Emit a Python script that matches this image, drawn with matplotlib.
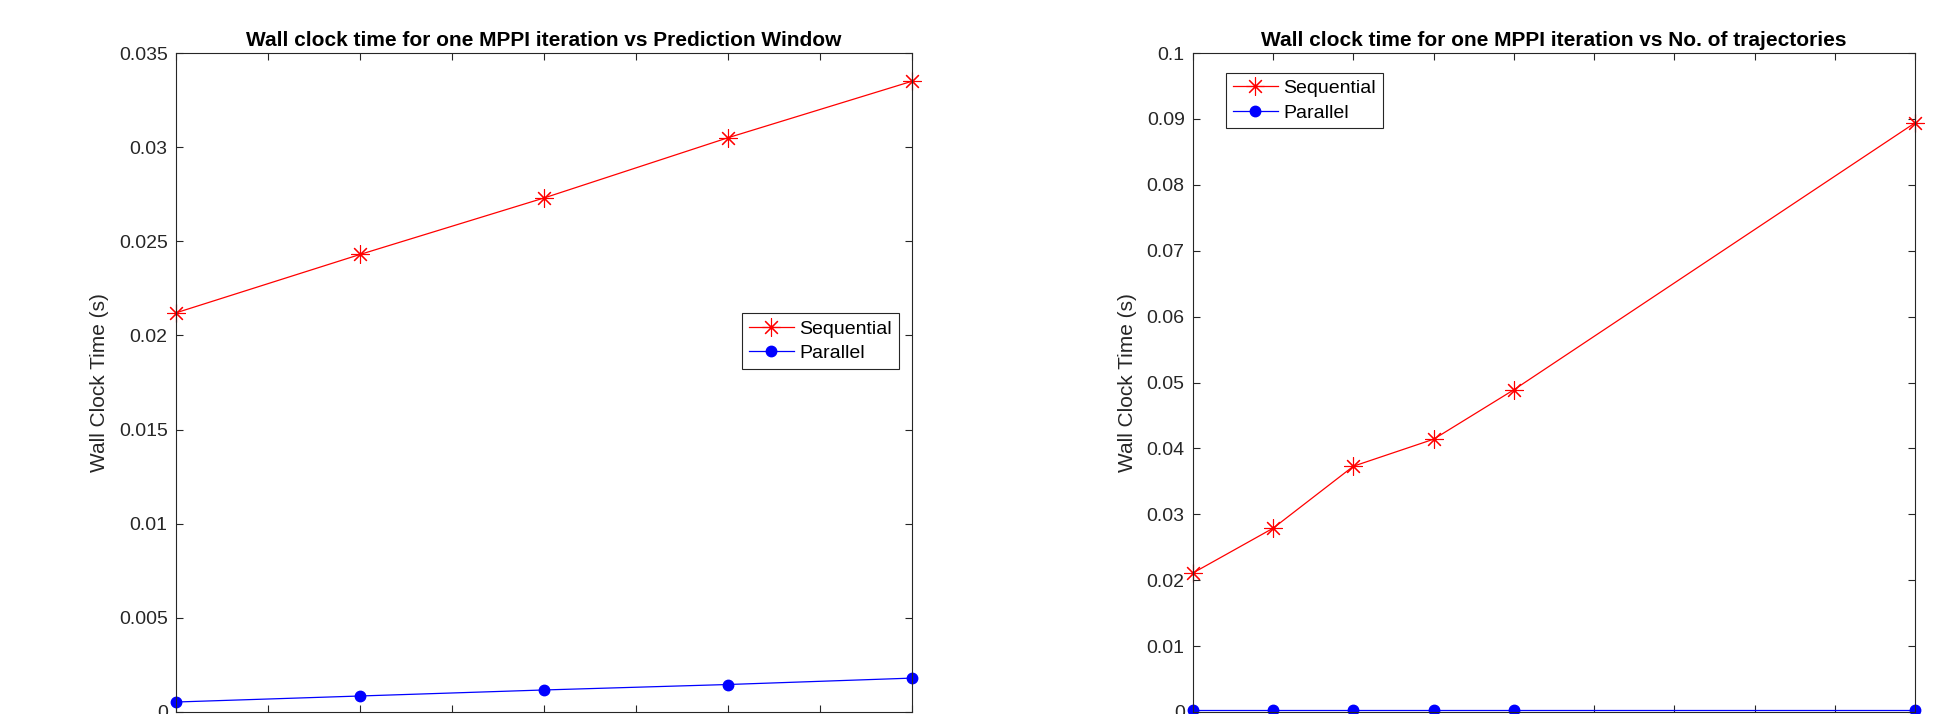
import matplotlib.pyplot as plt
import numpy as np

plt.rcParams['font.family'] = ['Liberation Sans', 'DejaVu Sans']

# prediction window sweep
horizon = [10, 20, 30, 40, 50]
seq_horizon = [0.0212, 0.0243, 0.0273, 0.0305, 0.0335]
par_horizon = [0.00053, 0.00085, 0.00117, 0.00146, 0.0018]

# number of trajectories sweep
n_traj = [1000, 2000, 3000, 4000, 5000, 10000]
seq_traj = [0.0211, 0.0279, 0.0373, 0.0414, 0.0489, 0.0894]
par_traj = [0.0003, 0.0003, 0.0003, 0.0003, 0.0003, 0.0003]

dark = '#262626'

fig = plt.figure(figsize=(19.41, 7.14), dpi=100)
ax1 = fig.add_axes([176 / 1941, 2 / 714, 736 / 1941, 659 / 714])
ax2 = fig.add_axes([1193 / 1941, 2 / 714, 722 / 1941, 659 / 714])

asterisk = (8, 2, 0)


def style(ax, title):
    ax.set_title(title, fontsize=15, fontweight='bold', color='black', pad=5)
    ax.set_ylabel('Wall Clock Time (s)', fontsize=15, color=dark, labelpad=7)
    ax.tick_params(direction='in', length=5, width=0.8, colors=dark, pad=6,
                   labelsize=14, top=True, right=True, labelbottom=False)
    for s in ax.spines.values():
        s.set_color(dark)
        s.set_linewidth(0.8)


def add_legend(ax, anchor):
    leg = ax.legend(loc='upper left', bbox_to_anchor=anchor, borderaxespad=0,
                    fontsize=14, fancybox=False, edgecolor=dark, framealpha=1,
                    handlelength=2.3, handletextpad=0.3, labelspacing=0.35,
                    borderpad=0.35)
    leg.get_frame().set_linewidth(0.8)


ax1.plot(horizon, seq_horizon, color='red', lw=0.9, marker=asterisk,
         markersize=13, markeredgewidth=0.8, label='Sequential')
ax1.plot(horizon, par_horizon, color='blue', lw=0.9, marker='o',
         markersize=7.5, label='Parallel')
ax1.set_xlim(10, 50)
ax1.set_xticks(np.arange(10, 51, 5))
ax1.set_ylim(0, 0.035)
ax1.set_yticks(np.arange(0, 0.0351, 0.005))
ax1.set_yticklabels(['0', '0.005', '0.01', '0.015', '0.02', '0.025', '0.03', '0.035'])
style(ax1, 'Wall clock time for one MPPI iteration vs Prediction Window')
add_legend(ax1, (0.769, 0.605))

ax2.plot(n_traj, seq_traj, color='red', lw=0.9, marker=asterisk,
         markersize=13, markeredgewidth=0.8, label='Sequential')
ax2.plot(n_traj, par_traj, color='blue', lw=0.9, marker='o',
         markersize=7.5, label='Parallel')
ax2.set_xlim(1000, 10000)
ax2.set_xticks(np.arange(1000, 10001, 1000))
ax2.set_ylim(0, 0.1)
ax2.set_yticks(np.arange(0, 0.101, 0.01))
ax2.set_yticklabels(['0', '0.01', '0.02', '0.03', '0.04', '0.05', '0.06', '0.07',
                     '0.08', '0.09', '0.1'])
style(ax2, 'Wall clock time for one MPPI iteration vs No. of trajectories')
add_legend(ax2, (0.046, 0.970))

for ax in (ax1, ax2):
    for ln in ax.get_lines():
        ln.set_clip_on(False)

plt.savefig('out.png', dpi=100)
plt.close()
